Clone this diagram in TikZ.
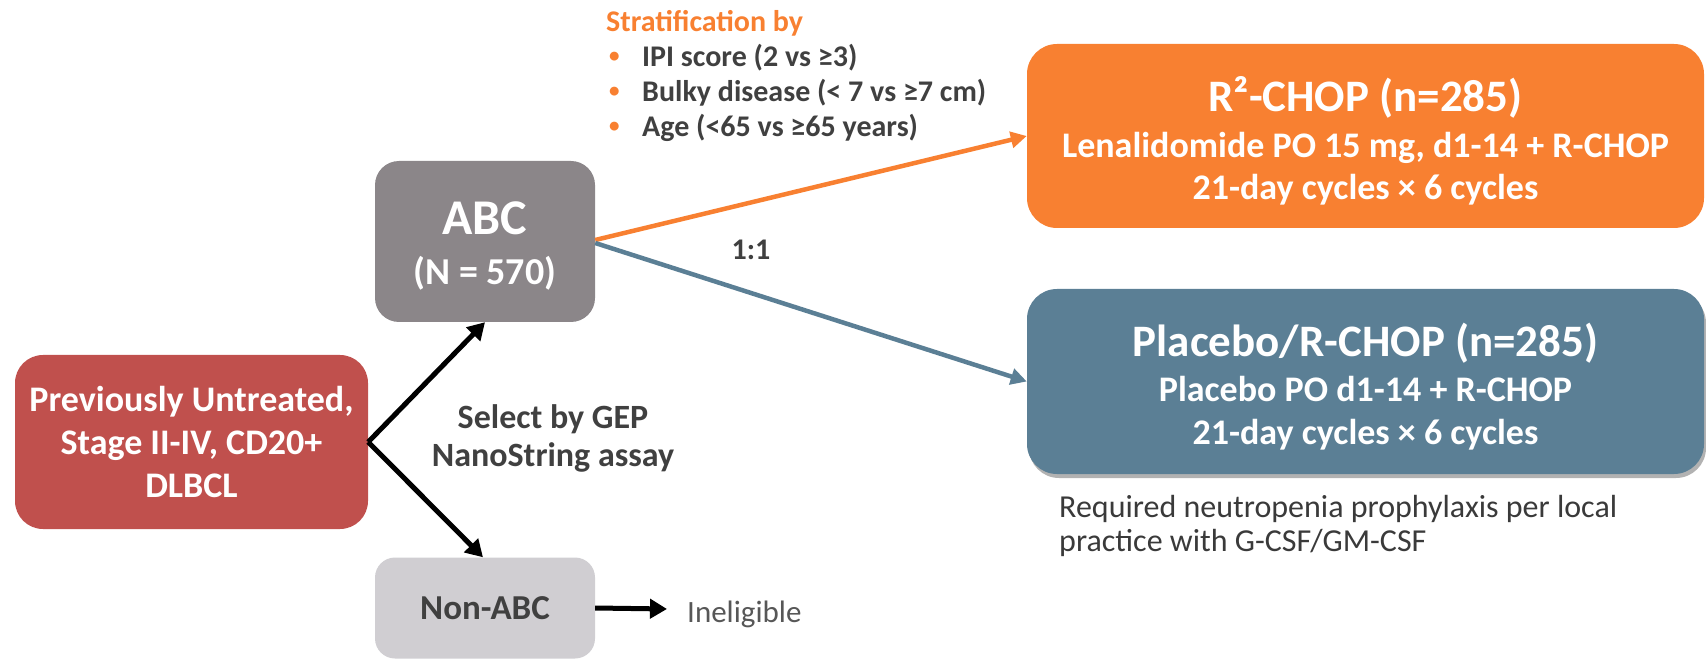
\documentclass[tikz,border=0pt]{standalone}
\usepackage{fontspec}
\setmainfont{Carlito}
\usetikzlibrary{arrows.meta,shadows}
\definecolor{orng}{HTML}{F88031}
\definecolor{slate}{HTML}{5B7F95}
\definecolor{brick}{HTML}{C0504D}
\definecolor{abcgray}{HTML}{8B8689}
\definecolor{lgray}{HTML}{D0CED2}
\definecolor{txt}{HTML}{404040}
\definecolor{notetxt}{HTML}{3A3A3A}
\tikzset{
  box/.style={rounded corners=28pt, inner sep=0pt, align=center, text=white},
  boxtext/.style={inner sep=0pt, align=center, text=white},
  blk/.style={line width=5pt, -{Triangle[length=17pt,width=19pt]}},
  arm/.style={line width=4.5pt, -{Triangle[length=16pt,width=16pt]}},
  lbl/.style={inner sep=0pt, text=txt, align=center},
  bul/.style={},
}
\newcommand{\obul}{\makebox[36pt][l]{\hspace{3pt}\textcolor{orng}{\raisebox{0.12em}{\scalebox{0.7}{•}}}}}
\begin{document}
\begin{tikzpicture}[x=1pt,y=-1pt]
\useasboundingbox (0,0) rectangle (1706,660);
% boxes
\node[box, fill=brick, minimum width=353pt, minimum height=174pt,
      font=\bfseries\fontsize{36}{43}\selectfont] (dlbcl) at (191.5,442)
  {Previously Untreated,\\Stage II-IV, CD20+\\DLBCL};
\node[box, fill=abcgray, minimum width=220pt, minimum height=161pt, rounded corners=24pt] (abc) at (485,241.5) {};
\node[boxtext, font=\bfseries\fontsize{38}{50}\selectfont] (abct) at (485,246)
  {{\fontsize{50}{50}\selectfont ABC}\\(N = 570)};
\node[box, fill=lgray, text=txt, minimum width=220pt, minimum height=101pt, rounded corners=20pt,
      font=\bfseries\fontsize{35}{40}\selectfont] (nonabc) at (485,608)
  {Non-ABC};
\node[box, fill=orng, minimum width=677pt, minimum height=184pt, rounded corners=30pt] (r2) at (1365.5,136) {};
\node[boxtext, font=\bfseries\fontsize{36}{42}\selectfont] (r2t) at (1365.5,141)
  {{\fontsize{45}{50}\selectfont R²-CHOP (n=285)}\\[4pt]Lenalidomide PO 15 mg, d1-14 + R-CHOP\\21-day cycles × 6 cycles};
\node[box, fill=slate, minimum width=677pt, minimum height=185pt, rounded corners=30pt,
      drop shadow={shadow xshift=2pt, shadow yshift=-4pt, opacity=0.3, fill=black}] (pla) at (1365.5,381.5) {};
\node[boxtext, font=\bfseries\fontsize{36}{43}\selectfont] (plat) at (1365.5,386.5)
  {{\fontsize{45}{50}\selectfont Placebo/R-CHOP (n=285)}\\[2pt]Placebo PO d1-14 + R-CHOP\\21-day cycles × 6 cycles};
% labels
\node[lbl, anchor=west, align=left, font=\bfseries\fontsize{30}{35}\selectfont] (strat) at (606,76)
  {\textcolor{orng}{Stratification by}\\
   \obul IPI score (2 vs ≥3)\\
   \obul Bulky disease (< 7 vs ≥7 cm)\\
   \obul Age (<65 vs ≥65 years)};
\node[lbl, font=\bfseries\fontsize{30}{36}\selectfont] (ratio) at (751,250) {1:1};
\node[lbl, font=\bfseries\fontsize{34}{38}\selectfont] (gep) at (553,438) {Select by GEP\\NanoString assay};
\node[inner sep=0pt, anchor=west, text=notetxt!85!white, font=\fontsize{31}{37}\selectfont] (inel) at (687,614) {Ineligible};
\node[inner sep=0pt, anchor=west, align=left, text=notetxt, font=\fontsize{32}{34}\selectfont] (note) at (1059,526)
  {Required neutropenia prophylaxis per local\\practice with G-CSF/GM-CSF};
% connectors
\coordinate (inelend) at (667,609);
\draw[blk] (dlbcl.east) -- (abc.south);
\draw[blk] (dlbcl.east) -- ([xshift=-2pt]nonabc.north);
\draw[blk] (nonabc.east) -- (inelend);
\draw[arm, draw=orng, fill=orng] ([yshift=1.5pt]abc.east) -- (r2.west);
\draw[arm, draw=slate, fill=slate] ([yshift=-1.5pt]abc.east) -- (pla.west);
\end{tikzpicture}
\end{document}
